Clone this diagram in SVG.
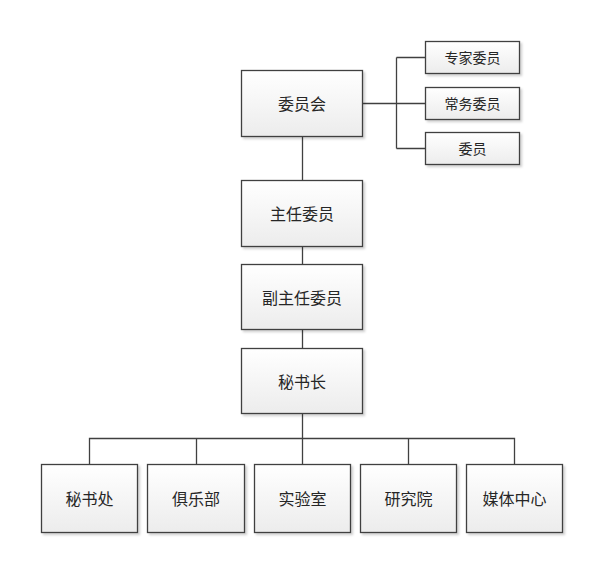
<svg xmlns="http://www.w3.org/2000/svg" width="600" height="569" viewBox="0 0 600 569">
<defs>
<linearGradient id="g" x1="0" y1="0" x2="0" y2="1">
<stop offset="0" stop-color="#ffffff"/>
<stop offset="1" stop-color="#ececec"/>
</linearGradient>
<filter id="sh" x="-10%" y="-10%" width="130%" height="130%">
<feDropShadow dx="2" dy="2" stdDeviation="1" flood-color="#000" flood-opacity="0.18"/>
</filter>
</defs>
<style>
.box{fill:url(#g);stroke:#404040;stroke-width:1.3;filter:url(#sh)}
.t{font-family:"Microsoft YaHei","Noto Sans CJK SC",sans-serif;font-size:16px;fill:#262626;text-anchor:middle;dominant-baseline:central}
.s{font-size:14px}
.c{fill:none;stroke:#404040;stroke-width:1.3}
</style>
<rect width="600" height="569" fill="#fff"/>
<g id="connectors">
<path class="c" d="M302.5 136.5V180.5M302.5 246.5V264.5M302.5 329.5V348.5M302.5 413.5V464.5"/>
<path class="c" d="M362.5 103.5H425.5M396.5 57.5V148.5M396.5 57.5H425.5M396.5 148.5H425.5"/>
<path class="c" d="M89.5 464.5V438.5H514.5V464.5M196.5 438.5V464.5M408.5 438.5V464.5"/>
</g>
<g id="n1"><rect class="box" x="241.5" y="70.5" width="121" height="66"/><text class="t" x="302" y="103">委员会</text></g>
<g id="n2"><rect class="box" x="425.5" y="41.5" width="94" height="32"/><text class="t s" x="472.5" y="57">专家委员</text></g>
<g id="n3"><rect class="box" x="425.5" y="87.5" width="94" height="32"/><text class="t s" x="472.5" y="103">常务委员</text></g>
<g id="n4"><rect class="box" x="425.5" y="132.5" width="94" height="32"/><text class="t s" x="472.5" y="148">委员</text></g>
<g id="n5"><rect class="box" x="241.5" y="180.5" width="121" height="66"/><text class="t" x="302" y="213">主任委员</text></g>
<g id="n6"><rect class="box" x="241.5" y="264.5" width="121" height="65"/><text class="t" x="302" y="296.5">副主任委员</text></g>
<g id="n7"><rect class="box" x="241.5" y="348.5" width="121" height="65"/><text class="t" x="302" y="380.5">秘书长</text></g>
<g id="n8"><rect class="box" x="41.5" y="464.5" width="96" height="68"/><text class="t" x="89.5" y="497.5">秘书处</text></g>
<g id="n9"><rect class="box" x="147.5" y="464.5" width="97" height="68"/><text class="t" x="196" y="497.5">俱乐部</text></g>
<g id="n10"><rect class="box" x="254.5" y="464.5" width="96" height="68"/><text class="t" x="302.5" y="497.5">实验室</text></g>
<g id="n11"><rect class="box" x="360.5" y="464.5" width="96" height="68"/><text class="t" x="408.5" y="497.5">研究院</text></g>
<g id="n12"><rect class="box" x="466.5" y="464.5" width="96" height="68"/><text class="t" x="514.5" y="497.5">媒体中心</text></g>
</svg>
